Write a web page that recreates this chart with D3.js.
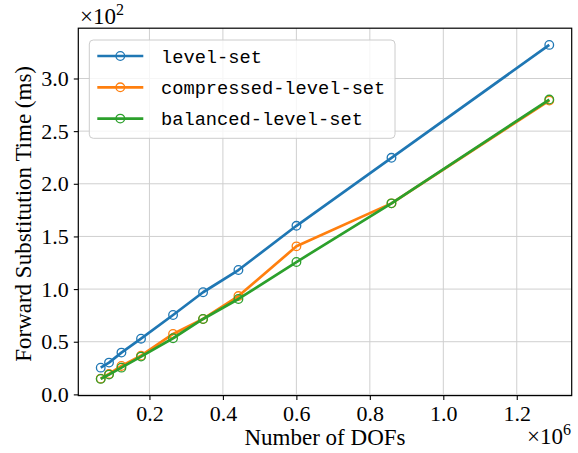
<!DOCTYPE html>
<html>
<head>
<meta charset="utf-8">
<script src="https://cdn.jsdelivr.net/npm/d3@7"></script>
<style>
  html, body { margin: 0; padding: 0; background: #fff; }
  svg { display: block; }
  .tick text { font-family: "Liberation Serif", serif; font-size: 22px; fill: #000; }
</style>
</head>
<body>
<svg id="chart" width="578" height="453"></svg>
<script>
// Degrees of freedom per problem size
const dofs = [67400, 90000, 123800, 177100, 264300, 346000, 442300, 600200, 858900, 1288500];

// Forward substitution time (ms) for each scheduling variant
const levelSet           = [25.4, 30.2, 39.7, 52.9, 75.4, 97.0, 118.1, 160.1, 224.7, 331.9];
const compressedLevelSet = [15.0, 19.4, 27.0, 36.8, 57.4, 71.6, 93.4, 140.6, 181.4, 279.0];
const balancedLevelSet   = [14.7, 18.8, 25.4, 35.9, 53.3, 71.6, 90.6, 125.7, 181.4, 280.0];

const seriesNames  = ["level-set", "compressed-level-set", "balanced-level-set"];
const seriesValues = [levelSet, compressedLevelSet, balancedLevelSet];
const seriesColors = ["#1f77b4", "#ff7f0e", "#2ca02c"];

const xTicks = [200000, 400000, 600000, 800000, 1000000, 1200000];
const yTicks = [0, 50, 100, 150, 200, 250, 300];

const svg = d3.select("#chart");
const box = { left: 78.3, right: 571.7, top: 28.2, bottom: 395.6 };

// 5% padding around the data range on both axes
function padded(ext) {
  const m = (ext[1] - ext[0]) * 0.05;
  return [ext[0] - m, ext[1] + m];
}
const allY = seriesValues.flat();
const x = d3.scaleLinear().domain(padded(d3.extent(dofs))).range([box.left, box.right]);
const y = d3.scaleLinear().domain(padded(d3.extent(allY))).range([box.bottom, box.top]);

// grid
const grid = svg.append("g").attr("stroke", "#cfcfcf").attr("stroke-width", 1);
grid.selectAll("line.gx").data(xTicks).join("line")
  .attr("x1", d => x(d)).attr("x2", d => x(d))
  .attr("y1", box.top).attr("y2", box.bottom);
grid.selectAll("line.gy").data(yTicks).join("line")
  .attr("x1", box.left).attr("x2", box.right)
  .attr("y1", d => y(d)).attr("y2", d => y(d));

// series lines and open circle markers
const line = d3.line().x((d, i) => x(dofs[i])).y(d => y(d));
seriesValues.forEach((vals, k) => {
  const g = svg.append("g");
  g.append("path").datum(vals)
    .attr("d", line)
    .attr("fill", "none")
    .attr("stroke", seriesColors[k])
    .attr("stroke-width", 2.7)
    .attr("stroke-linejoin", "round");
  g.selectAll("circle").data(vals).join("circle")
    .attr("cx", (d, i) => x(dofs[i]))
    .attr("cy", d => y(d))
    .attr("r", 4.3)
    .attr("fill", "none")
    .attr("stroke", seriesColors[k])
    .attr("stroke-width", 1.3);
});

// axes
const xAxis = d3.axisBottom(x).tickValues(xTicks).tickSize(4.5).tickPadding(5)
  .tickFormat(d => (d / 1e6).toFixed(1));
const yAxis = d3.axisLeft(y).tickValues(yTicks).tickSize(4.5).tickPadding(5)
  .tickFormat(d => (d / 100).toFixed(1));

const gx = svg.append("g").attr("transform", `translate(0,${box.bottom})`).call(xAxis);
const gy = svg.append("g").attr("transform", `translate(${box.left},0)`).call(yAxis);
[gx, gy].forEach(g => {
  g.select(".domain").remove();
  g.selectAll(".tick line").attr("stroke", "#000").attr("stroke-width", 1.1);
});

// frame
svg.append("rect")
  .attr("x", box.left).attr("y", box.top)
  .attr("width", box.right - box.left).attr("height", box.bottom - box.top)
  .attr("fill", "none").attr("stroke", "#000").attr("stroke-width", 1.2);

// legend
const legend = svg.append("g");
legend.append("rect")
  .attr("x", 89.3).attr("y", 40).attr("width", 305.7).attr("height", 98.3)
  .attr("rx", 4).attr("fill", "#fff").attr("fill-opacity", 0.8)
  .attr("stroke", "#cccccc").attr("stroke-width", 1);
seriesNames.forEach((name, k) => {
  const yy = 56 + k * 31.3;
  legend.append("line")
    .attr("x1", 97.3).attr("x2", 143.3).attr("y1", yy).attr("y2", yy)
    .attr("stroke", seriesColors[k]).attr("stroke-width", 2.7);
  legend.append("circle")
    .attr("cx", 120.3).attr("cy", yy).attr("r", 4.3)
    .attr("fill", "none").attr("stroke", seriesColors[k]).attr("stroke-width", 1.3);
  legend.append("text")
    .attr("x", 161).attr("y", yy + 6.5)
    .attr("font-family", "'Liberation Mono', monospace")
    .attr("font-size", 18.7)
    .text(name);
});

// axis titles
const serif = "'Liberation Serif', serif";
svg.append("text")
  .attr("x", (box.left + box.right) / 2).attr("y", 445)
  .attr("text-anchor", "middle")
  .attr("font-family", serif).attr("font-size", 23)
  .text("Number of DOFs");
svg.append("text")
  .attr("transform", `translate(31,${(box.top + box.bottom) / 2 + 2}) rotate(-90)`)
  .attr("text-anchor", "middle")
  .attr("font-family", serif).attr("font-size", 23)
  .text("Forward Substitution Time (ms)");

// scale multipliers
function multiplier(px, py, exp, anchor) {
  const t = svg.append("text")
    .attr("x", px).attr("y", py)
    .attr("text-anchor", anchor)
    .attr("font-family", serif).attr("font-size", 23);
  t.append("tspan").text("×10");
  t.append("tspan").attr("dy", -9).attr("font-size", 16).text(exp);
}
multiplier(80, 24, "2", "start");
multiplier(571, 444, "6", "end");
</script>
</body>
</html>
